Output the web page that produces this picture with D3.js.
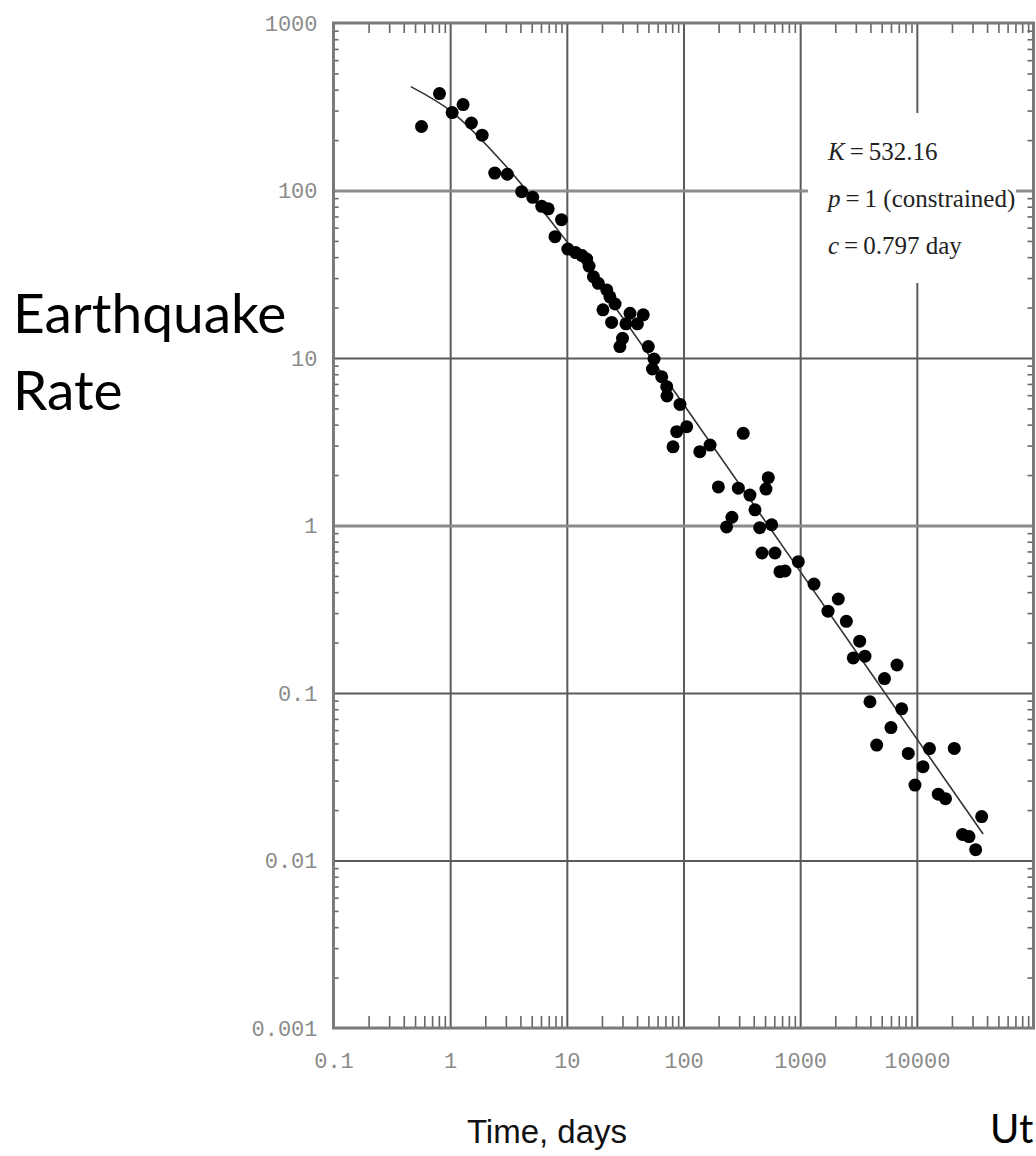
<!DOCTYPE html>
<html>
<head>
<meta charset="utf-8">
<script src="https://cdn.jsdelivr.net/npm/d3@7"></script>
<style>
	body { margin: 0; background: #fff; }
	.tick-label { font-family: 'Liberation Mono', 'DejaVu Sans Mono', monospace; font-size: 22px; fill: #8a8a8a; }
	.note { font-family: 'Liberation Serif', serif; font-size: 25px; fill: #222; }
	.big-label { font-family: Lato, 'Open Sans', sans-serif; fill: #000; }
	.x-title { font-family: 'Liberation Sans Narrow', 'Liberation Sans', sans-serif; font-size: 33px; fill: #111; }
</style>
</head>
<body>
<div id="chart"></div>
<script>
// time since the mainshock, days
var timeDays = [
	0.568, 0.81, 1.04, 1.29, 1.52, 1.88, 2.41, 3.09, 4.10, 5.10,
	6.09, 6.92, 9.0, 7.91, 10.2, 11.9, 13.5, 14.8, 15.5, 16.9,
	18.6, 22.0, 23.4, 25.9, 20.4, 24.2, 34.8, 45.2, 32.1, 40.3,
	30.0, 28.5, 49.9, 55.9, 54.2, 65.0, 71.8, 72.2, 93.3, 106.5,
	87.4, 81.3, 325, 138, 169, 199, 295, 371, 533, 509,
	410, 260, 234, 450, 570, 471, 608, 671, 741, 964,
	1314, 2122, 1732, 2489, 3237, 2853, 3593, 6760, 5282, 3966,
	7415, 6003, 4529, 8447, 12836, 20940, 11290, 9640, 15270, 17600,
	35960, 24620, 27990, 31940
];

// earthquake rate, per day
var quakeRate = [
	241, 379, 292, 326, 253, 214, 127, 125, 98.4, 91.1,
	80.5, 77.7, 67.0, 53.0, 44.7, 42.6, 40.9, 39.0, 35.4, 30.6,
	27.9, 25.5, 23.2, 21.0, 19.4, 16.3, 18.5, 18.1, 16.0, 16.0,
	13.1, 11.7, 11.7, 9.86, 8.6, 7.73, 6.74, 5.93, 5.28, 3.89,
	3.63, 2.95, 3.55, 2.76, 3.02, 1.70, 1.67, 1.52, 1.93, 1.65,
	1.24, 1.12, 0.98, 0.97, 1.01, 0.685, 0.685, 0.530, 0.535, 0.608,
	0.447, 0.364, 0.308, 0.268, 0.204, 0.162, 0.166, 0.147, 0.122, 0.0887,
	0.0805, 0.0622, 0.0489, 0.0436, 0.0466, 0.0467, 0.0363, 0.0282, 0.0249, 0.0234,
	0.0183, 0.0143, 0.0139, 0.0116
];

// fitted curve
var fitDays = [0.46, 1, 3, 10, 100, 1000, 10000, 37000];
var fitRate = [417, 300, 140, 49.5, 5.3, 0.532, 0.0532, 0.0144];

var xTickValues = [0.1, 1, 10, 100, 1000, 10000];
var xTickLabels = ['0.1', '1', '10', '100', '1000', '10000'];
var yTickValues = [1000, 100, 10, 1, 0.1, 0.01, 0.001];
var yTickLabels = ['1000', '100', '10', '1', '0.1', '0.01', '0.001'];

var noteSymbols = ['K', 'p', 'c'];
var noteTexts = ['\u2009=\u2009532.16', '\u2009=\u20091 (constrained)', '\u2009=\u20090.797 day'];

drawChart();

function drawChart() {
	var width = 1036;
	var height = 1156;
	var plot = { left: 333.5, right: 1033.5, top: 23, bottom: 1028 };

	var svg = d3.select('#chart')
		.append('svg')
		.attr('width', width)
		.attr('height', height);

	svg.append('rect')
		.attr('width', width)
		.attr('height', height)
		.attr('fill', '#fff');

	var xScale = d3.scaleLog()
		.domain([0.1, 1e5])
		.range([plot.left, plot.right]);

	var yScale = d3.scaleLog()
		.domain([0.001, 1000])
		.range([plot.bottom, plot.top]);

	// minor tick values 2..9 in every decade
	function minorTicks(lo, hi) {
		var out = [];
		for (var e = Math.log10(lo); e < Math.log10(hi); e++) {
			for (var k = 2; k < 10; k++) {
				out.push(k * Math.pow(10, e));
			}
		}
		return out;
	}

	var plotH = plot.bottom - plot.top;
	var plotW = plot.right - plot.left;

	// grid
	svg.append('g')
		.attr('class', 'grid x-grid')
		.attr('transform', 'translate(0,' + plot.bottom + ')')
		.call(d3.axisBottom(xScale).tickValues([1, 10, 100, 1000, 10000]).tickSize(-plotH).tickFormat(''))
		.call(function(g) {
			g.select('.domain').remove();
			g.selectAll('line').attr('stroke', '#5a5a5a').attr('stroke-width', 2);
		});

	svg.append('g')
		.attr('class', 'grid y-grid')
		.attr('transform', 'translate(' + plot.left + ',0)')
		.call(d3.axisLeft(yScale).tickValues([100, 10, 1, 0.1, 0.01]).tickSize(-plotW).tickFormat(''))
		.call(function(g) {
			g.select('.domain').remove();
			g.selectAll('line').attr('stroke', function(d) {
				return (d === 100 || d === 1) ? '#8c8c8c' : '#5a5a5a';
			}).attr('stroke-width', function(d) {
				return (d === 100 || d === 1) ? 3 : 2;
			});
		});

	// minor ticks round the frame
	var xMinor = minorTicks(0.1, 1e5);
	var yMinor = minorTicks(0.001, 1000);

	svg.append('g')
		.attr('transform', 'translate(0,' + plot.bottom + ')')
		.call(d3.axisBottom(xScale).tickValues(xMinor).tickSize(-12).tickFormat(''))
		.call(styleMinor);

	svg.append('g')
		.attr('transform', 'translate(0,' + plot.top + ')')
		.call(d3.axisTop(xScale).tickValues(xMinor).tickSize(-10).tickFormat(''))
		.call(styleMinor);

	svg.append('g')
		.attr('transform', 'translate(' + plot.left + ',0)')
		.call(d3.axisLeft(yScale).tickValues(yMinor).tickSize(-5).tickFormat(''))
		.call(styleMinor);

	svg.append('g')
		.attr('transform', 'translate(' + plot.right + ',0)')
		.call(d3.axisRight(yScale).tickValues(yMinor).tickSize(-6).tickFormat(''))
		.call(styleMinor);

	function styleMinor(g) {
		g.select('.domain').remove();
		g.selectAll('line').attr('stroke', '#666').attr('stroke-width', 1.6);
	}

	// frame
	svg.append('rect')
		.attr('x', plot.left)
		.attr('y', plot.top)
		.attr('width', plotW)
		.attr('height', plotH)
		.attr('fill', 'none')
		.attr('stroke', '#7a7a7a')
		.attr('stroke-width', 3);

	// tick labels
	svg.append('g')
		.attr('transform', 'translate(0,' + plot.bottom + ')')
		.call(d3.axisBottom(xScale).tickValues(xTickValues).tickSize(0).tickPadding(24)
			.tickFormat(function(d, i) { return xTickLabels[i]; }))
		.call(function(g) {
			g.select('.domain').remove();
			g.selectAll('text').attr('class', 'tick-label').attr('font-size', null).attr('font-family', null).attr('fill', null);
		});

	svg.append('g')
		.attr('transform', 'translate(' + plot.left + ',0)')
		.call(d3.axisLeft(yScale).tickValues(yTickValues).tickSize(0).tickPadding(16)
			.tickFormat(function(d, i) { return yTickLabels[i]; }))
		.call(function(g) {
			g.select('.domain').remove();
			g.selectAll('text').attr('class', 'tick-label').attr('font-size', null).attr('font-family', null).attr('fill', null);
		});

	// fitted line
	var fitData = fitDays.map(function(d, i) {
		return { t: d, r: fitRate[i] };
	});

	svg.append('path')
		.datum(fitData)
		.attr('fill', 'none')
		.attr('stroke', '#333')
		.attr('stroke-width', 1.6)
		.attr('d', d3.line()
			.x(function(d) { return xScale(d.t); })
			.y(function(d) { return yScale(d.r); })
			.curve(d3.curveMonotoneX));

	// data points
	var points = timeDays.map(function(d, i) {
		return { t: d, r: quakeRate[i] };
	});

	svg.append('g')
		.selectAll('circle')
		.data(points)
		.enter()
		.append('circle')
		.attr('cx', function(d) { return xScale(d.t); })
		.attr('cy', function(d) { return yScale(d.r); })
		.attr('r', 6.5)
		.attr('fill', '#000');

	// parameter box
	svg.append('rect')
		.attr('x', 808)
		.attr('y', 113)
		.attr('width', 208)
		.attr('height', 170)
		.attr('fill', '#fff');

	var notes = svg.append('g');
	noteSymbols.forEach(function(s, i) {
		var txt = notes.append('text')
			.attr('class', 'note')
			.attr('x', 828)
			.attr('y', 160 + i * 47);
		txt.append('tspan').attr('font-style', 'italic').text(s);
		txt.append('tspan').text(noteTexts[i]);
	});

	// titles
	svg.append('text')
		.attr('class', 'big-label')
		.attr('x', 13)
		.attr('y', 333)
		.attr('font-size', 55)
		.text('Earthquake');

	svg.append('text')
		.attr('class', 'big-label')
		.attr('x', 13)
		.attr('y', 410)
		.attr('font-size', 55)
		.text('Rate');

	svg.append('text')
		.attr('class', 'x-title')
		.attr('x', 547)
		.attr('y', 1143)
		.attr('text-anchor', 'middle')
		.text('Time, days');

	svg.append('text')
		.attr('class', 'big-label')
		.attr('x', 990)
		.attr('y', 1143)
		.attr('font-size', 40)
		.text('Ut');
}
</script>
</body>
</html>
